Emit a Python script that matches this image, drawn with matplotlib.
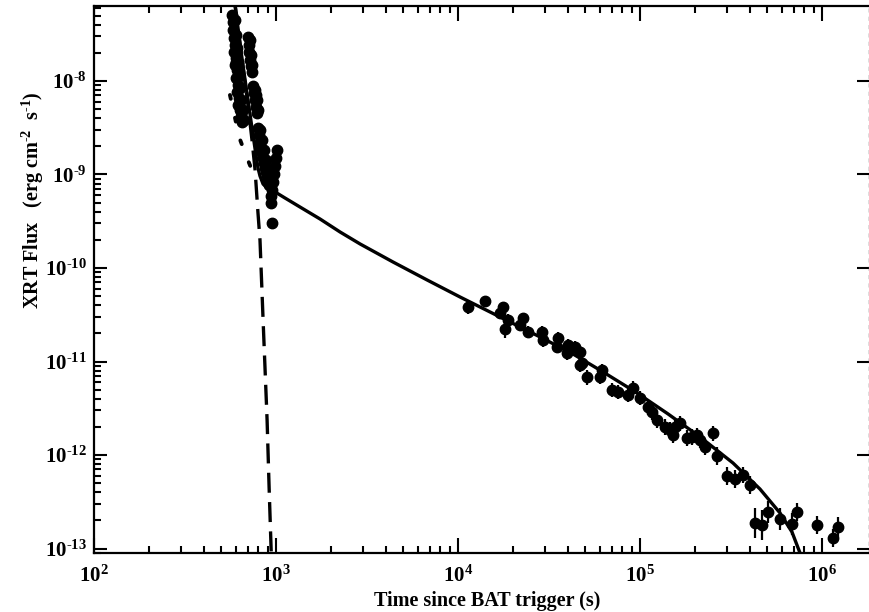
import numpy as np
import matplotlib
matplotlib.use("Agg")
import matplotlib.pyplot as plt
from matplotlib.ticker import LogLocator, NullFormatter, FixedLocator

plt.rcParams['font.family'] = ['Liberation Serif', 'DejaVu Serif']
plt.rcParams['font.weight'] = 'bold'
plt.rcParams['mathtext.fontset'] = 'custom'
plt.rcParams['mathtext.rm'] = 'Liberation Serif:bold'
plt.rcParams['mathtext.it'] = 'Liberation Serif:bold'
plt.rcParams['mathtext.bf'] = 'Liberation Serif:bold'

# ---- data (log10 of time [s] and log10 of flux [erg cm^-2 s^-1]) ----
early_logt = [2.758, 2.764, 2.764, 2.769, 2.775, 2.769, 2.780, 2.775, 2.786, 2.780,
              2.791, 2.786, 2.797, 2.791, 2.802, 2.808, 2.813, 2.802, 2.780,
              2.775, 2.780, 2.786, 2.791, 2.797, 2.802, 2.808, 2.819, 2.824,
              2.846, 2.852, 2.852, 2.857, 2.863, 2.868, 2.874, 2.879, 2.885, 2.890,
              2.896, 2.890,
              2.857, 2.863, 2.868, 2.885, 2.896, 2.901,
              2.901, 2.907, 2.912, 2.918, 2.923, 2.929, 2.934, 2.940, 2.945, 2.951, 2.956,
              2.912, 2.923, 2.934, 2.945, 2.956, 2.962,
              3.005, 3.000, 2.995, 2.989, 2.984, 2.978, 2.973, 2.973, 2.967, 2.978]
early_logf = [-7.294, -7.369, -7.455, -7.540, -7.615, -7.690, -7.754, -7.829, -7.882, -7.968,
              -8.043, -8.118, -8.182, -8.257, -8.310, -8.374, -8.439, -8.203, -7.797,
              -7.348, -7.508, -7.647, -7.797, -7.947, -8.075, -8.203, -8.310, -8.417,
              -7.529, -7.615, -7.690, -7.775, -7.840, -7.904, -8.053, -8.128, -8.203, -8.278,
              -8.342, -8.150,
              -7.561, -7.722, -7.829, -8.096, -8.203, -8.310,
              -8.503, -8.578, -8.652, -8.717, -8.770, -8.824, -8.877, -8.930, -8.973, -9.016, -9.059,
              -8.524, -8.631, -8.738, -8.845, -8.952, -9.112,
              -8.738, -8.824, -8.909, -8.995, -9.080, -9.166, -9.230, -9.305, -9.112, -9.519]

late_logt = [4.055, 4.148, 4.231, 4.247, 4.275, 4.258, 4.341, 4.357, 4.385, 4.462,
             4.467, 4.544, 4.549, 4.599, 4.604, 4.643, 4.670, 4.670, 4.681, 4.709,
             4.780, 4.791, 4.846, 4.879, 4.934, 4.962, 5.000, 5.044, 5.066, 5.093,
             5.137, 5.165, 5.181, 5.192, 5.220, 5.258, 5.286, 5.313, 5.330, 5.357,
             5.401, 5.423, 5.478, 5.522, 5.566, 5.604, 5.632, 5.670, 5.703, 5.769,
             5.835, 5.863, 5.973, 6.060, 6.088]
late_logf = [-10.417, -10.353, -10.481, -10.417, -10.556, -10.652, -10.610, -10.535, -10.684, -10.684,
             -10.770, -10.845, -10.749, -10.909, -10.824, -10.845, -10.898, -11.037, -11.016, -11.166,
             -11.166, -11.091, -11.305, -11.326, -11.358, -11.283, -11.390, -11.487, -11.540, -11.626,
             -11.701, -11.733, -11.786, -11.701, -11.658, -11.818, -11.807, -11.786, -11.840, -11.914,
             -11.765, -12.011, -12.225, -12.257, -12.214, -12.321, -12.727, -12.749, -12.610, -12.684,
             -12.738, -12.610, -12.749, -12.888, -12.770]
late_err = [0.07, 0.05, 0.05, 0.05, 0.06, 0.10, 0.06, 0.05, 0.06, 0.06,
            0.07, 0.06, 0.06, 0.07, 0.06, 0.06, 0.06, 0.07, 0.07, 0.08,
            0.07, 0.06, 0.07, 0.07, 0.07, 0.07, 0.07, 0.08, 0.09, 0.08,
            0.09, 0.09, 0.09, 0.08, 0.08, 0.09, 0.09, 0.08, 0.09, 0.09,
            0.08, 0.10, 0.10, 0.10, 0.09, 0.10, 0.16, 0.16, 0.12, 0.12,
            0.12, 0.10, 0.10, 0.10, 0.11]

# model curves
total_logt = [2.775, 2.791, 2.808, 2.824, 2.846, 2.868, 2.885, 2.901, 2.912, 2.929, 2.951, 2.995,
              3.049, 3.132, 3.242, 3.352, 3.462, 3.643, 3.830, 4.011, 4.231, 4.451,
              4.632, 4.797, 4.984, 5.154, 5.330, 5.511, 5.659, 5.769, 5.835, 5.879]
total_logf = [-7.187, -7.430, -7.685, -7.907, -8.199, -8.503, -8.727, -8.930, -9.016, -9.102, -9.144, -9.187,
              -9.251, -9.348, -9.476, -9.615, -9.743, -9.936, -10.128, -10.310, -10.524, -10.738,
              -10.920, -11.112, -11.337, -11.561, -11.807, -12.086, -12.364, -12.620, -12.824, -13.048]
steep_logt = [2.775, 2.791, 2.808, 2.824, 2.846, 2.868, 2.885, 2.901, 2.912, 2.929, 2.951, 2.962, 2.975]
steep_logf = [-7.187, -7.433, -7.690, -7.936, -8.257, -8.631, -8.952, -9.412, -9.701, -10.556, -11.626, -12.342, -13.12]
dot_logt = [2.747, 2.775, 2.797, 2.830, 2.863]
dot_logf = [-8.150, -8.396, -8.599, -8.770, -8.930]

fig = plt.figure(figsize=(8.7, 6.12), dpi=100)
ax = fig.add_axes([94/870, 1-553/612, 775/870, 547/612])

def tl(a):
    return 10**np.asarray(a, dtype=float)

el = np.array(early_logf)
et, ef = tl(early_logt), tl(el)
ax.errorbar(et, ef, yerr=[ef - tl(el - 0.03), tl(el + 0.03) - ef],
            fmt='o', color='black', ms=7.5, elinewidth=1.5, capsize=0, zorder=3)
ll = np.array(late_logf)
lt, lf = tl(late_logt), tl(ll)
le = np.array(late_err)
ax.errorbar(lt, lf, yerr=[lf - tl(ll - le), tl(ll + le) - lf],
            fmt='o', color='black', ms=7.5, elinewidth=1.6, capsize=0, zorder=3)

ax.plot(tl(total_logt), tl(total_logf), color='black', lw=2.4, zorder=4,
        solid_joinstyle='round')
ax.plot(tl(steep_logt), tl(steep_logf), color='black', lw=2.4, dashes=(6, 2.8), zorder=4)
ax.plot(tl(dot_logt), tl(dot_logf), color='black', lw=2.8, dashes=(1, 5),
        dash_capstyle='round', zorder=4)

ax.set_xscale('log')
ax.set_yscale('log')
ax.set_xlim(100, 10**6.258)
ax.set_ylim(10**-13.048, 10**-7.198)

H = '\u2010'
xt = [1e2, 1e3, 1e4, 1e5, 1e6]
ax.xaxis.set_major_locator(FixedLocator(xt))
ax.set_xticklabels([r'$10^{2}$', r'$10^{3}$', r'$10^{4}$', r'$10^{5}$', r'$10^{6}$'])
yt = [1e-13, 1e-12, 1e-11, 1e-10, 1e-9, 1e-8]
ax.yaxis.set_major_locator(FixedLocator(yt))
ax.set_yticklabels(['$10^{' + H + e + '}$' for e in ['13', '12', '11', '10', '9', '8']])
ax.xaxis.set_minor_locator(LogLocator(base=10, subs=np.arange(2, 10), numticks=20))
ax.yaxis.set_minor_locator(LogLocator(base=10, subs=np.arange(2, 10), numticks=20))
ax.xaxis.set_minor_formatter(NullFormatter())
ax.yaxis.set_minor_formatter(NullFormatter())

ax.tick_params(axis='x', which='major', direction='in', length=11, width=1.5, top=True,
               labelsize=15, pad=9)
ax.tick_params(axis='x', which='minor', direction='in', length=5, width=1.5, top=True)
ax.tick_params(axis='y', which='major', direction='in', length=9, width=1.5, right=True,
               labelsize=15, pad=5)
ax.tick_params(axis='y', which='minor', direction='in', length=5, width=1.5, right=False)

for s in ['left', 'bottom', 'top']:
    ax.spines[s].set_linewidth(1.6)
ax.spines['right'].set_linewidth(1.0)
ax.spines['right'].set_linestyle((0, (2, 4)))
ax.spines['right'].set_color('#555555')

ax.set_xlabel('Time since BAT trigger (s)', fontsize=14.5, fontweight='bold')
ax.xaxis.set_label_coords(0.507, -0.070)
ax.set_ylabel('XRT Flux   (erg cm$^{' + H + '2}$  s$^{' + H + '1}$)', fontsize=14.5, fontweight='bold')
ax.yaxis.set_label_coords(-0.062, 0.645)

fig.savefig('out.png', dpi=100)
